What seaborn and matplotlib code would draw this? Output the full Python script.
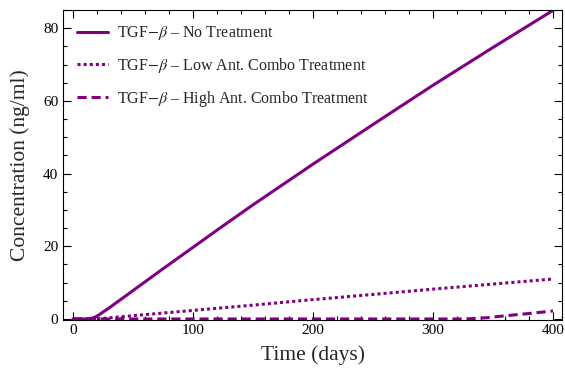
import matplotlib
matplotlib.use("Agg")
import matplotlib.pyplot as plt
import seaborn as sns
import numpy as np
import pandas as pd
from matplotlib.ticker import MultipleLocator

sns.set_style("ticks")
plt.rcParams['font.family'] = ['Liberation Serif', 'DejaVu Serif']
plt.rcParams['mathtext.fontset'] = 'stix'

t_none = [0, 10, 13, 16, 19, 22, 25, 30, 40, 50, 75, 89, 100, 122, 150, 200, 256, 300, 350, 400]
y_none = [0, 0, 0.03, 0.2, 0.6, 1.2, 1.9, 3.0, 5.4, 7.8, 13.8, 17.1, 19.7, 24.9, 31.4, 42.6, 54.8, 64.3, 74.7, 84.9]

t_low = [0, 15, 20, 30, 50, 100, 122, 150, 189, 250, 300, 350, 400]
y_low = [0, 0, 0.05, 0.3, 0.9, 2.35, 3.0, 3.8, 5.0, 6.75, 8.2, 9.6, 11.0]

t_high = [0, 100, 200, 300, 320, 330, 345, 358, 380, 400]
y_high = [0, 0, 0, 0, 0, 0.05, 0.35, 0.8, 1.5, 2.2]

labels = ["TGF$-\\beta$ – No Treatment",
          "TGF$-\\beta$ – Low Ant. Combo Treatment",
          "TGF$-\\beta$ – High Ant. Combo Treatment"]

color = "#800080"
dot = (1.0, 1.0)
dash = (3.0, 1.6)

fig = plt.figure(figsize=(5.65, 3.82), dpi=100)
ax = fig.add_axes([0.1115, 0.1636, 0.8832, 0.8102])

sns.lineplot(x=t_none, y=y_none, ax=ax, color=color, lw=2.2, label=labels[0])
sns.lineplot(x=t_low, y=y_low, ax=ax, color=color, lw=2.2, label=labels[1])
sns.lineplot(x=t_high, y=y_high, ax=ax, color=color, lw=2.2, label=labels[2])
lines = ax.get_lines()
lines[1].set_dashes(dot)
lines[2].set_dashes(dash)

ax.set_xlim(-8.3, 407.5)
ax.set_ylim(-0.15, 85.0)
ax.xaxis.set_major_locator(MultipleLocator(100))
ax.xaxis.set_minor_locator(MultipleLocator(20))
ax.yaxis.set_major_locator(MultipleLocator(20))
ax.yaxis.set_minor_locator(MultipleLocator(5))
ax.tick_params(which='both', direction='in', top=True, right=True, labelsize=11, colors='black')
ax.tick_params(which='major', length=6, width=0.8)
ax.tick_params(which='minor', length=3, width=0.8)
for s in ax.spines.values():
    s.set_linewidth(0.8)
    s.set_color('black')

ax.set_xlabel("Time (days)", fontsize=15.5, labelpad=6)
ax.set_ylabel("Concentration (ng/ml)", fontsize=15.5, labelpad=9)

leg = ax.legend(loc='upper left', frameon=False, fontsize=11.5, handlelength=1.9,
                handletextpad=0.6, labelspacing=0.85)
for h in leg.get_lines():
    h.set_linewidth(2.2)
leg.get_lines()[1].set_dashes(dot)
leg.get_lines()[2].set_dashes(dash)

fig.savefig("out.png", dpi=100)
